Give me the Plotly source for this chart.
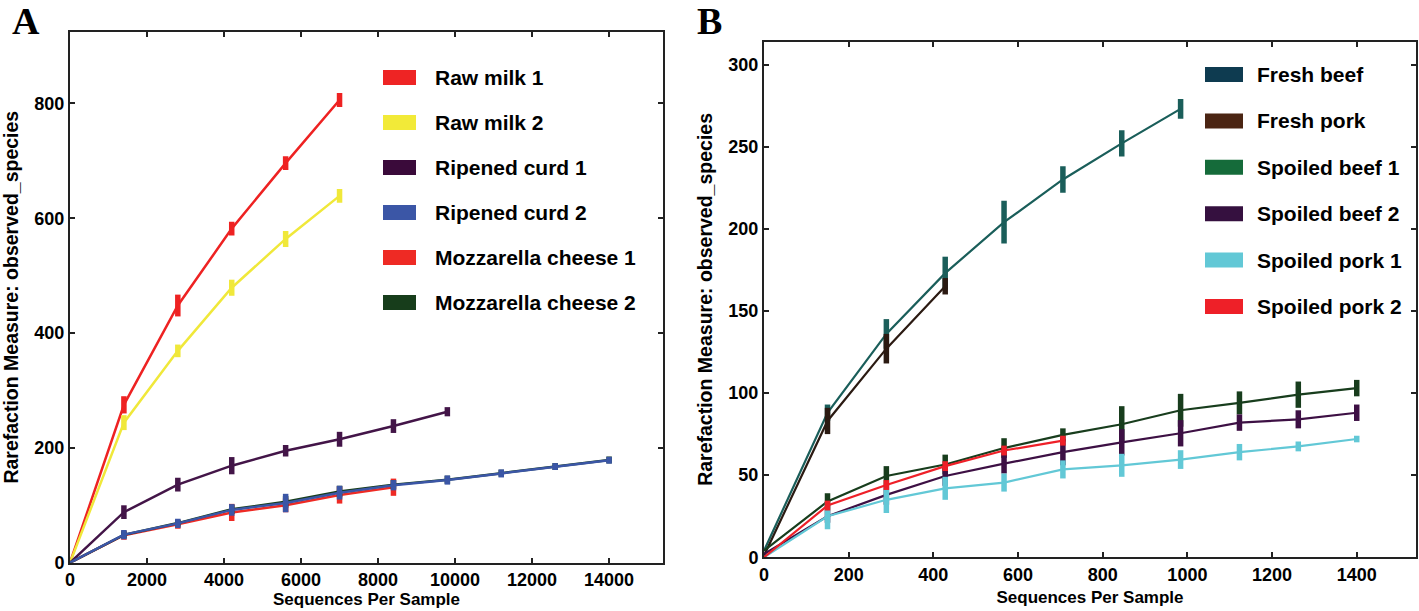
import plotly.graph_objects as go

W, H = 1419, 611

# ---------------- Panel A data ----------------
a_x = [0, 1400, 2800, 4200, 5600, 7000, 8400, 9800, 11200, 12600, 14000]
a_names = ["Raw milk 1", "Raw milk 2", "Ripened curd 1", "Ripened curd 2",
           "Mozzarella cheese 1", "Mozzarella cheese 2"]
raw_milk_1 = [0, 275, 448, 582, 696, 806]
raw_milk_1_err = [0, 15, 19, 12, 12, 12]
raw_milk_2 = [0, 244, 369, 479, 564, 639]
raw_milk_2_err = [0, 13, 11, 14, 14, 12]
ripened_curd_1 = [0, 88, 136, 169, 195, 215, 238, 263]
ripened_curd_1_err = [0, 12, 12, 15, 10, 13, 12, 8]
ripened_curd_2 = [0, 49, 68.5, 92, 104, 122, 135, 144, 155.5, 167.5, 178.5]
ripened_curd_2_err = [0, 8, 8, 10, 16, 12, 9, 8, 7, 6, 6]
mozzarella_1 = [0, 48, 67, 87.5, 100, 118, 131.5]
mozzarella_1_err = [0, 8, 8, 15, 12, 15, 15]
mozzarella_2 = [0, 48.5, 69, 93, 106, 124, 136, 144.5, 156, 167.5, 179]
mozzarella_2_err = [0, 6, 6, 8, 10, 10, 8, 7, 6, 6, 6]
a_line_colors = ["#ee2222", "#f0e83a", "#431548", "#3b56a6", "#ee2a24", "#173d1b"]
a_legend_colors = ["#ee2424", "#f2ea38", "#3a0a3a", "#3b56a6", "#ee2a24", "#173d1b"]
a_series = [raw_milk_1, raw_milk_2, ripened_curd_1, ripened_curd_2, mozzarella_1, mozzarella_2]
a_errors = [raw_milk_1_err, raw_milk_2_err, ripened_curd_1_err, ripened_curd_2_err,
            mozzarella_1_err, mozzarella_2_err]
a_draw_order = [0, 1, 2, 4, 5, 3]

# ---------------- Panel B data ----------------
b_x = [0, 150, 289, 428, 567, 706, 845, 984, 1123, 1262, 1400]
b_names = ["Fresh beef", "Fresh pork", "Spoiled beef 1", "Spoiled beef 2",
           "Spoiled pork 1", "Spoiled pork 2"]
fresh_beef = [4, 88, 136, 173, 204, 230, 252, 273]
fresh_beef_err = [0, 5, 9, 10, 13, 8, 8, 6]
fresh_pork = [1, 83, 127, 165]
fresh_pork_err = [0, 8, 9, 5]
spoiled_beef_1 = [4, 34, 49.5, 56.5, 66.5, 74.5, 81, 89.5, 94, 99, 103]
spoiled_beef_1_err = [0, 5, 6, 6, 6, 4, 11, 10, 7, 8, 5]
spoiled_beef_2 = [2, 25, 38, 49.5, 57, 64, 70, 75.5, 82, 84, 88]
spoiled_beef_2_err = [0, 4, 6, 6, 6, 8, 8, 8, 5, 5.5, 5]
spoiled_pork_1 = [0, 25, 35, 42, 45.5, 53.5, 56, 59.5, 64, 67.5, 72]
spoiled_pork_1_err = [0, 8, 8, 7, 5.5, 5.5, 7, 5.7, 5, 3, 2]
spoiled_pork_2 = [0, 31.5, 44, 55.5, 65, 71]
spoiled_pork_2_err = [0, 3, 3, 3, 3, 3]
b_line_colors = ["#1a5e5a", "#2b1a12", "#183d1d", "#3d1044", "#62c8d6", "#ee2028"]
b_legend_colors = ["#0e3b50", "#4b2513", "#156b3a", "#35103f", "#62c8d6", "#ee2028"]
b_series = [fresh_beef, fresh_pork, spoiled_beef_1, spoiled_beef_2, spoiled_pork_1, spoiled_pork_2]
b_errors = [fresh_beef_err, fresh_pork_err, spoiled_beef_1_err, spoiled_beef_2_err,
            spoiled_pork_1_err, spoiled_pork_2_err]
b_draw_order = [0, 1, 2, 3, 4, 5]

a_xticks = [0, 2000, 4000, 6000, 8000, 10000, 12000, 14000]
a_xticklabels = ["0", "2000", "4000", "6000", "8000", "10000", "12000", "14000"]
a_yticks = [0, 200, 400, 600, 800]
b_xticks = [0, 200, 400, 600, 800, 1000, 1200, 1400]
b_xticklabels = ["0", "200", "400", "600", "800", "1000", "1200", "1400"]
b_yticks = [0, 50, 100, 150, 200, 250, 300]

FONT = "Liberation Sans, Arial, sans-serif"

fig = go.Figure()


def add_panel(xs, names, series, errors, colors, order, xa, ya, lw):
    for i in order:
        ys = series[i]
        fig.add_trace(go.Scatter(
            x=xs[:len(ys)], y=ys, mode="lines", name=names[i],
            line=dict(color=colors[i], width=lw),
            error_y=dict(type="data", array=errors[i], color=colors[i],
                         thickness=5.5, width=0),
            xaxis=xa, yaxis=ya, showlegend=False))


add_panel(a_x, a_names, a_series, a_errors, a_line_colors, a_draw_order, "x", "y", 2.5)
add_panel(b_x, b_names, b_series, b_errors, b_line_colors, b_draw_order, "x2", "y2", 2.2)


def px_x(p):
    return p / W


def px_y(p):
    return 1 - p / H


axis_common = dict(
    showline=True, linecolor="#222222", linewidth=2, mirror="allticks",
    ticks="inside", ticklen=5, tickwidth=1.5, tickcolor="#222222",
    showgrid=False, zeroline=False, automargin=False,
    tickfont=dict(family=FONT, size=18, color="black", weight="bold"),
)
xtitle_font = dict(family=FONT, size=17, color="black", weight="bold")
ytitle_font = dict(family=FONT, size=19.5, color="black", weight="bold")

fig.update_layout(
    width=W, height=H, margin=dict(l=0, r=0, t=0, b=0),
    paper_bgcolor="white", plot_bgcolor="white", showlegend=False,
    xaxis=dict(domain=[px_x(70), px_x(663)], range=[0, 15400], tickvals=a_xticks,
               ticktext=a_xticklabels,
               title=dict(text="Sequences Per Sample", font=xtitle_font, standoff=3),
               anchor="y", **axis_common),
    yaxis=dict(domain=[px_y(562.7), px_y(31.7)], range=[0, 925], tickvals=a_yticks,
               title=dict(text="Rarefaction Measure: observed_species", font=ytitle_font, standoff=11),
               anchor="x", **axis_common),
    xaxis2=dict(domain=[px_x(764), px_x(1416)], range=[0, 1540], tickvals=b_xticks,
                ticktext=b_xticklabels,
                title=dict(text="Sequences Per Sample", font=xtitle_font, standoff=7),
                anchor="y2", **axis_common),
    yaxis2=dict(domain=[px_y(557.3), px_y(41.5)], range=[0, 314], tickvals=b_yticks,
                title=dict(text="Rarefaction Measure: observed_species", font=ytitle_font, standoff=11),
                anchor="x2", **axis_common),
)

# Custom legends: coloured boxes + labels
shapes = []
annotations = []


def add_legend(names, colors, rect_x0, rect_x1, text_x, y0, dy, h):
    for k, (nm, c) in enumerate(zip(names, colors)):
        yc = y0 + k * dy
        shapes.append(dict(type="rect", xref="paper", yref="paper",
                           x0=px_x(rect_x0), x1=px_x(rect_x1),
                           y0=px_y(yc + h / 2), y1=px_y(yc - h / 2),
                           fillcolor=c, line=dict(width=0)))
        annotations.append(dict(text=nm, xref="paper", yref="paper",
                                x=px_x(text_x), y=px_y(yc), xanchor="left", yanchor="middle",
                                showarrow=False,
                                font=dict(family=FONT, size=21, color="black", weight="bold")))


add_legend(a_names, a_legend_colors, 383, 416, 433, 77.5, 45, 15)
add_legend(b_names, b_legend_colors, 1205, 1243, 1255, 74.5, 46.4, 15)

# Panel letters
for letter, xpix in [("A", 10), ("B", 695)]:
    annotations.append(dict(text=letter, xref="paper", yref="paper",
                            x=px_x(xpix), y=px_y(21), xanchor="left", yanchor="middle",
                            showarrow=False,
                            font=dict(family="Liberation Serif, Times New Roman, serif",
                                      size=38, color="black", weight="bold")))

fig.update_layout(shapes=shapes, annotations=annotations)

fig.write_html("out.html")
